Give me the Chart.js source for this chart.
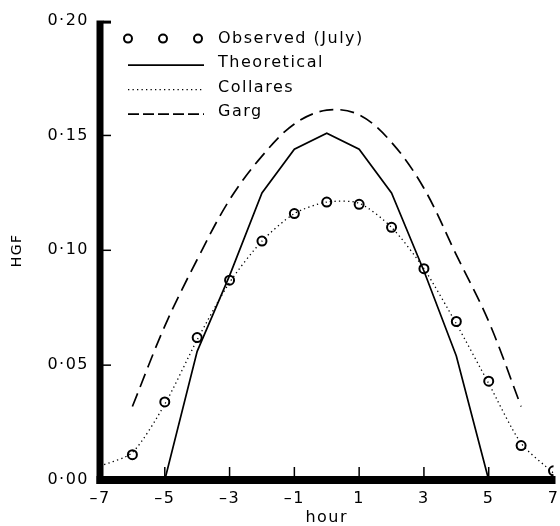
<!DOCTYPE html>
<html>
<head>
<meta charset="utf-8">
<title>HGF by hour</title>
<script src="https://cdn.jsdelivr.net/npm/chart.js@4.4.1/dist/chart.umd.min.js"></script>
<style>
    html, body { margin: 0; padding: 0; background: #fff; overflow: hidden; }
    #hgfChart { display: block; }
</style>
</head>
<body>
<canvas id="hgfChart" width="560" height="526"></canvas>
<script>
// hour of day relative to solar noon
const observedHours = [-6, -5, -4, -3, -2, -1, 0, 1, 2, 3, 4, 5, 6, 7];
const observedHGF = [0.011, 0.034, 0.062, 0.087, 0.104, 0.116, 0.121, 0.120, 0.110, 0.092, 0.069, 0.043, 0.015, 0.004];

const theoreticalHours = [-5, -4, -3, -2, -1, 0, 1, 2, 3, 4, 5];
const theoreticalHGF = [0.000, 0.056, 0.089, 0.125, 0.144, 0.151, 0.144, 0.125, 0.091, 0.054, 0.000];

const collaresHours = [-7, -6, -5, -4, -3, -2, -1, 0, 1, 2, 3, 4, 5, 6, 7];
const collaresHGF = [0.006, 0.012, 0.033, 0.061, 0.086, 0.104, 0.116, 0.121, 0.1205, 0.110, 0.092, 0.068, 0.042, 0.016, 0.003];

const gargHours = [-6, -5, -4, -3, -2, -1, 0, 1, 2, 3, 4, 5, 6];
const gargHGF = [0.032, 0.067, 0.096, 0.122, 0.141, 0.155, 0.161, 0.159, 0.147, 0.127, 0.098, 0.069, 0.032];

// axis ticks
const hourTicks = [-7, -5, -3, -1, 1, 3, 5, 7];
const hgfTicks = [0, 0.05, 0.10, 0.15, 0.20];

const FONT = '"DejaVu Sans", sans-serif';

function toPoints(xs, ys) {
    return xs.map((x, i) => ({ x: x, y: ys[i] }));
}

// order of the rows in the key
const legendOrder = ["Observed (July)", "Theoretical", "Collares", "Garg"];

// thick L-shaped frame with short inward ticks
const axisFrame = {
    id: 'axisFrame',
    beforeDraw(chart) {
        chart.ctx.letterSpacing = '1.5px';
    },
    beforeDatasetsDraw(chart) {
        const { ctx, chartArea: a, scales: { x, y } } = chart;
        ctx.save();
        ctx.strokeStyle = '#000';
        ctx.lineCap = 'butt';

        // y axis
        ctx.lineWidth = 7;
        ctx.beginPath();
        ctx.moveTo(a.left, a.top);
        ctx.lineTo(a.left, a.bottom + 4);
        ctx.stroke();

        // x axis
        ctx.lineWidth = 8;
        ctx.beginPath();
        ctx.moveTo(a.left - 3.5, a.bottom);
        ctx.lineTo(a.right + 2, a.bottom);
        ctx.stroke();

        // inward tick marks
        ctx.lineWidth = 1.5;
        hourTicks.forEach(h => {
            if (h === x.min || h === x.max) return;
            const px = x.getPixelForValue(h);
            ctx.beginPath();
            ctx.moveTo(px, a.bottom - 4);
            ctx.lineTo(px, a.bottom - 13);
            ctx.stroke();
        });
        hgfTicks.forEach(v => {
            if (v === y.min) return;
            const py = y.getPixelForValue(v);
            ctx.lineWidth = v === y.max ? 3 : 1.5;
            ctx.beginPath();
            ctx.moveTo(a.left + 3, py + (v === y.max ? 1.5 : 0));
            ctx.lineTo(a.left + 11, py + (v === y.max ? 1.5 : 0));
            ctx.stroke();
        });
        ctx.restore();
    }
};

// key drawn inside the plot, top left
const insideLegend = {
    id: 'insideLegend',
    afterDatasetsDraw(chart) {
        const { ctx, chartArea: a } = chart;
        const x0 = a.left + 28;
        const x1 = a.left + 104;
        const textX = a.left + 118;
        ctx.save();
        ctx.font = '16px ' + FONT;
        ctx.fillStyle = '#000';
        ctx.textBaseline = 'middle';
        ctx.textAlign = 'left';
        legendOrder.forEach((label, i) => {
            const ds = chart.data.datasets.find(d => d.label === label);
            const rowY = a.top + 18 + i * 24.5;
            ctx.strokeStyle = '#000';
            if (ds.showLine === false) {
                ctx.lineWidth = ds.pointBorderWidth;
                ctx.setLineDash([]);
                [x0, (x0 + x1 - 6) / 2, x1 - 6].forEach(cx => {
                    ctx.beginPath();
                    ctx.arc(cx, rowY, ds.pointRadius - 0.5, 0, Math.PI * 2);
                    ctx.fillStyle = '#fff';
                    ctx.fill();
                    ctx.stroke();
                });
                ctx.fillStyle = '#000';
            } else {
                ctx.lineWidth = ds.borderWidth;
                ctx.setLineDash(ds.legendDash || ds.borderDash || []);
                ctx.beginPath();
                ctx.moveTo(x0, rowY + 2);
                ctx.lineTo(x1, rowY + 2);
                ctx.stroke();
                ctx.setLineDash([]);
            }
            ctx.fillText(label, textX, rowY);
        });
        ctx.restore();
    }
};

const ctx = document.getElementById('hgfChart');

new Chart(ctx, {
    type: 'line',
    data: {
        datasets: [
            {
                label: 'Collares',
                data: toPoints(collaresHours, collaresHGF),
                borderColor: '#000',
                borderWidth: 1.3,
                borderDash: [1.3, 3.2],
                legendDash: [1.3, 3.2],
                pointRadius: 0,
                tension: 0.25,
                fill: false
            },
            {
                label: 'Theoretical',
                data: toPoints(theoreticalHours, theoreticalHGF),
                borderColor: '#000',
                borderWidth: 1.7,
                pointRadius: 0,
                tension: 0,
                fill: false
            },
            {
                label: 'Garg',
                data: toPoints(gargHours, gargHGF),
                borderColor: '#000',
                borderWidth: 1.7,
                borderDash: [14, 7],
                legendDash: [11, 4],
                pointRadius: 0,
                tension: 0.35,
                fill: false
            },
            {
                label: 'Observed (July)',
                data: toPoints(observedHours, observedHGF),
                showLine: false,
                borderColor: '#000',
                pointStyle: 'circle',
                pointRadius: 4.5,
                pointBorderWidth: 2,
                pointBorderColor: '#000',
                pointBackgroundColor: '#fff'
            }
        ]
    },
    options: {
        responsive: false,
        animation: false,
        devicePixelRatio: 1,
        layout: { padding: { top: 15, right: 4, bottom: 0, left: 0 } },
        plugins: {
            legend: { display: false },
            tooltip: { enabled: false }
        },
        scales: {
            x: {
                type: 'linear',
                min: -7,
                max: 7,
                afterBuildTicks: scale => {
                    scale.ticks = hourTicks.map(v => ({ value: v }));
                },
                afterFit: scale => {
                    scale.height = 46;
                    // let the end labels run off the edge instead of shrinking the plot
                    scale.paddingLeft = 0;
                    scale.paddingRight = 0;
                },
                ticks: {
                    color: '#000',
                    padding: 9,
                    maxRotation: 0,
                    font: { family: FONT, size: 16 },
                    callback: v => (v < 0 ? '\u2013' + Math.abs(v) : String(v))
                },
                grid: { display: false, drawTicks: false },
                border: { display: false },
                title: {
                    display: true,
                    text: 'hour',
                    color: '#000',
                    padding: { top: 0, bottom: 0 },
                    font: { family: FONT, size: 16, lineHeight: 1 }
                }
            },
            y: {
                min: 0,
                max: 0.2,
                afterBuildTicks: scale => {
                    scale.ticks = hgfTicks.map(v => ({ value: v }));
                },
                afterFit: scale => { scale.width = 100; },
                ticks: {
                    color: '#000',
                    padding: 11,
                    font: { family: FONT, size: 16 },
                    callback: v => v.toFixed(2).replace('.', '\u00B7')
                },
                grid: { display: false, drawTicks: false },
                border: { display: false },
                title: {
                    display: true,
                    text: 'HGF',
                    color: '#000',
                    padding: { top: 10, bottom: 0 },
                    font: { family: FONT, size: 14, lineHeight: 1 }
                }
            }
        }
    },
    plugins: [axisFrame, insideLegend]
});
</script>
</body>
</html>
